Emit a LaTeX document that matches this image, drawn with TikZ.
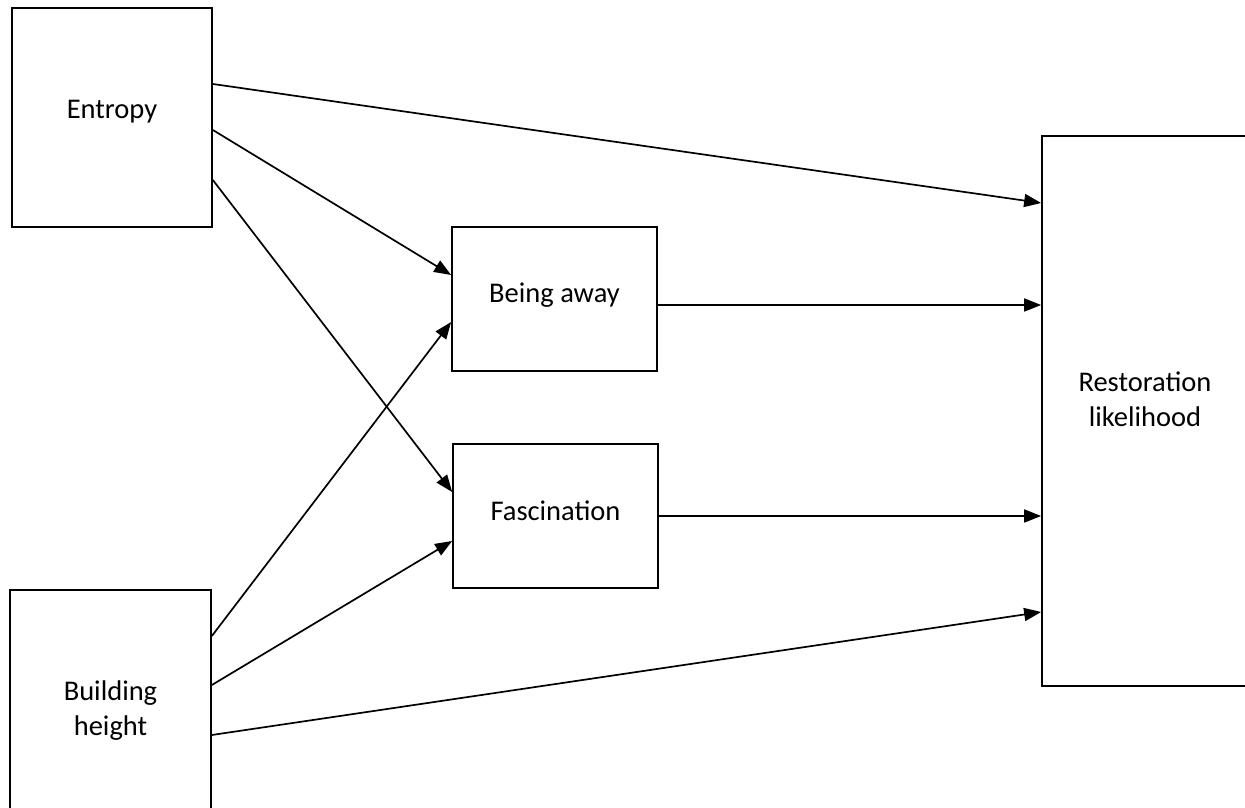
\documentclass[tikz,border=0pt]{standalone}
\usepackage{fontspec}
\setmainfont{Carlito}
\usetikzlibrary{arrows.meta,positioning}

\begin{document}
\begin{tikzpicture}
      [x=1pt, y=1pt, line width=1.7pt, >={Stealth[length=17pt,width=13pt,inset=0pt]},
      factor/.style={rectangle, draw, align=center, inner sep=0pt,
        font=\fontsize{28.5}{35}\selectfont},
      every node/.style={text=black}]

      \useasboundingbox (0,0) rectangle (1245,808);
      \clip (0,0) rectangle (1245,808);

      \node [factor, minimum width=200, minimum height=219, text depth=16pt] (E) at (112,690.5) {Entropy};
      \node [factor, minimum width=201, minimum height=242] (B) at (110.5,97) {Building\\height};
      \node [factor, minimum width=205, minimum height=144, text depth=13pt] (A) at (554.5,509) {Being away};
      \node [factor, minimum width=205, minimum height=144, text depth=10pt] (F) at (555.5,292) {Fascination};
      \node [factor, minimum width=206, minimum height=550, text depth=24pt] (R) at (1145,397) {Restoration\\likelihood};

      \draw [->] ([yshift=33.5pt]E.east)  -- ([yshift=208pt]R.west);
      \draw [->] ([yshift=-12.5pt]E.east) -- ([yshift=24pt]A.west);
      \draw [->] ([yshift=-62.5pt]E.east) -- ([yshift=24pt]F.west);
      \draw [->] ([yshift=75pt]B.east)    -- ([yshift=-23pt]A.west);
      \draw [->] ([yshift=26pt]B.east)    -- ([yshift=-25pt]F.west);
      \draw [->] ([yshift=-24pt]B.east)   -- ([yshift=-201pt]R.west);
      \draw [->] ([yshift=-6pt]A.east)    -- ([yshift=-6pt]A.east -| R.west);
      \draw [->] (F.east) -- (F.east -| R.west);
    \end{tikzpicture}
\end{document}
